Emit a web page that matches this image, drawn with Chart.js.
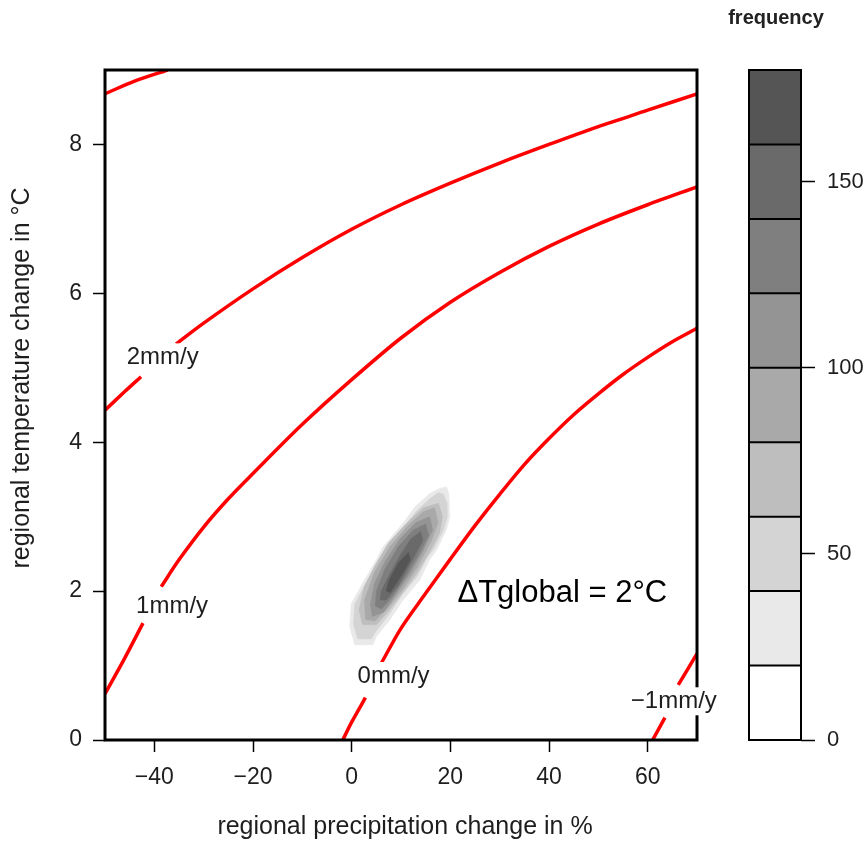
<!DOCTYPE html>
<html>
<head>
<meta charset="utf-8">
<title>Regional precipitation vs temperature change</title>
<script src="https://cdn.jsdelivr.net/npm/chart.js@4.4.1/dist/chart.umd.min.js"></script>
<style>
  html, body { margin: 0; padding: 0; background: #ffffff; }
  #wrap { position: relative; width: 867px; height: 845px; overflow: hidden; }
  #main { position: absolute; left: 0; top: 0; }
  #key { position: absolute; left: 740px; top: 0; }
</style>
</head>
<body>
<div id="wrap">
  <canvas id="main" width="867" height="845"></canvas>
  <canvas id="key" width="127" height="845"></canvas>
</div>
<script>
// Axis ranges and ticks
const xRange = [-50, 70];
const yRange = [0, 9];
const xTicks = [-40, -20, 0, 20, 40, 60];
const yTicks = [0, 2, 4, 6, 8];

// Water-balance contour lines (mm/y), [precip %, temp °C]; each line is split where its label sits
const line3mm  = [[-50, 8.68], [-44, 8.85], [-37.3, 9.0]];
const line2mmA = [[-50, 4.43], [-46, 4.68], [-42.7, 4.88]];
const line2mmB = [[-35.6, 5.32], [-30, 5.6], [-20, 6.06], [-10, 6.48], [0, 6.86], [10, 7.19],
                  [20, 7.48], [30, 7.75], [40, 8.0], [50, 8.24], [60, 8.46], [70, 8.68]];
const line1mmA = [[-50, 0.62], [-46, 1.1], [-42.3, 1.57]];
const line1mmB = [[-38.6, 2.06], [-35, 2.42], [-30, 2.86], [-25, 3.24], [-20, 3.58], [-10, 4.24],
                  [0, 4.84], [10, 5.4], [20, 5.88], [30, 6.28], [40, 6.63], [50, 6.93], [60, 7.19], [70, 7.43]];
const line0mmA = [[-1.8, 0], [0, 0.24], [2.8, 0.57]];
const line0mmB = [[6.0, 1.03], [10, 1.5], [15, 1.97], [20, 2.43], [25, 2.88], [30, 3.3], [35, 3.7],
                  [40, 4.05], [45, 4.37], [50, 4.65], [55, 4.91], [60, 5.14], [65, 5.35], [70, 5.53]];
const lineM1A  = [[61.0, 0], [63.5, 0.3]];
const lineM1B  = [[66.2, 0.74], [70, 1.16]];

// Contour labels
const contourLabels = ['2mm/y', '1mm/y', '0mm/y', '\u22121mm/y'];
const contourLabelX = [-38.3, -36.4, 8.5, 65.3];
const contourLabelY = [5.14, 1.80, 0.86, 0.52];
const annotationText = '\u0394Tglobal = 2\u00B0C';
const annotationX = 42.7;
const annotationY = 1.97;

// Frequency key: level boundaries and shades
const keyLevels = [0, 20, 40, 60, 80, 100, 120, 140, 160, 180];
const keyTicks = [0, 50, 100, 150];
const levelColors = ['#ffffff', '#e9e9e9', '#d4d4d4', '#bebebe', '#a9a9a9',
                     '#949494', '#7f7f7f', '#6a6a6a', '#555555'];

// Frequency regions of the ensemble (outline of each level, lowest level first)
const freq20 = [[19.2, 3.40], [19.7, 3.31], [19.9, 3.00], [19.2, 2.82], [17.2, 2.55], [15.8, 2.42],
                [13.8, 2.15], [10.4, 1.88], [7.7, 1.61], [5.0, 1.39], [4.3, 1.28], [0.6, 1.28],
                [-0.4, 1.52], [-0.1, 1.83], [2.6, 2.15], [5.0, 2.42], [6.3, 2.59], [10.4, 2.91],
                [12.8, 3.13], [15.8, 3.31], [17.8, 3.38]];
const freq40 = [[18.6, 3.30], [19.2, 3.20], [19.3, 2.98], [18.6, 2.82], [16.8, 2.58], [15.3, 2.45],
                [13.3, 2.20], [10.2, 1.95], [7.5, 1.68], [4.9, 1.46], [4.0, 1.36], [1.2, 1.36],
                [0.4, 1.55], [0.6, 1.82], [3.2, 2.15], [5.6, 2.42], [7.0, 2.60], [10.8, 2.88],
                [13.2, 3.08], [16.0, 3.25], [17.6, 3.32]];
const freq60 = [[17.6, 3.18], [18.4, 3.00], [17.8, 2.78], [16.0, 2.55], [13.0, 2.22], [10.0, 1.95],
                [7.3, 1.72], [5.0, 1.55], [2.2, 1.55], [1.5, 1.75], [2.5, 2.05], [4.8, 2.35],
                [7.5, 2.65], [11.0, 2.90], [14.5, 3.12]];
const freq80 = [[16.8, 3.12], [17.5, 2.92], [16.2, 2.68], [13.3, 2.32], [10.3, 2.02], [7.4, 1.78],
                [4.7, 1.60], [2.8, 1.62], [2.6, 1.88], [4.6, 2.25], [7.8, 2.60], [11.4, 2.88], [14.6, 3.07]];
const freq100 = [[15.8, 3.00], [16.4, 2.82], [14.5, 2.55], [12.0, 2.25], [9.2, 1.98], [6.5, 1.72],
                 [4.2, 1.66], [3.8, 1.82], [4.6, 2.10], [6.8, 2.40], [9.8, 2.70], [13.0, 2.92]];
const freq120 = [[15.0, 2.90], [15.6, 2.75], [13.5, 2.48], [11.0, 2.20], [8.2, 1.92], [6.0, 1.76],
                 [4.8, 1.80], [5.0, 2.00], [6.8, 2.30], [9.5, 2.60], [12.5, 2.82]];
const freq140 = [[14.0, 2.80], [14.4, 2.68], [12.0, 2.38], [9.5, 2.08], [7.0, 1.88], [5.8, 1.88],
                 [6.0, 2.00], [7.5, 2.20], [10.0, 2.50], [12.0, 2.70]];
const freq160 = [[11.5, 2.52], [11.9, 2.42], [9.8, 2.18], [7.8, 1.98], [7.0, 2.00], [7.6, 2.15],
                 [9.5, 2.38]];

const freqRegions = [freq20, freq40, freq60, freq80, freq100, freq120, freq140, freq160];

const FONT = "'Liberation Sans', Arial, Helvetica, sans-serif";
const TEXT = '#1e1e1e';
const fmt = v => (v < 0 ? '\u2212' + Math.abs(v) : String(v));
const toPts = arr => arr.map(([x, y]) => ({ x, y }));

// Datasets: red contour lines on top, then density shades darkest first
const datasets = [];
[line3mm, line2mmA, line2mmB, line1mmA, line1mmB, line0mmA, line0mmB, lineM1A, lineM1B].forEach(seg => {
  datasets.push({
    data: toPts(seg), showLine: true, borderColor: '#ff0000', borderWidth: 3.5,
    pointRadius: 0, tension: 0.3, fill: false
  });
});
for (let i = freqRegions.length - 1; i >= 0; i--) {
  const ring = freqRegions[i].concat([freqRegions[i][0]]);
  datasets.push({
    data: toPts(ring), showLine: true, borderColor: levelColors[i + 1], borderWidth: 0.6,
    backgroundColor: levelColors[i + 1], pointRadius: 0, tension: 0, fill: 'shape'
  });
}

// Box around the plotting region plus text labels placed in data coordinates
const plotDecor = {
  id: 'plotDecor',
  afterDraw(chart) {
    const { ctx, chartArea: a, scales: { x, y } } = chart;
    ctx.save();
    ctx.strokeStyle = '#000';
    ctx.lineWidth = 3;
    ctx.strokeRect(a.left, a.top, a.right - a.left, a.bottom - a.top);

    ctx.font = '24px ' + FONT;
    ctx.textAlign = 'center';
    ctx.textBaseline = 'middle';
    contourLabels.forEach((t, i) => {
      const px = x.getPixelForValue(contourLabelX[i]);
      const py = y.getPixelForValue(contourLabelY[i]);
      const w = ctx.measureText(t).width;
      ctx.fillStyle = '#fff';
      ctx.fillRect(px - w / 2 - 2, py - 14, w + 4, 28);
      ctx.fillStyle = TEXT;
      ctx.fillText(t, px, py);
    });

    ctx.font = '31px ' + FONT;
    ctx.fillStyle = '#000';
    ctx.fillText(annotationText, x.getPixelForValue(annotationX), y.getPixelForValue(annotationY));

    // axis titles
    ctx.fillStyle = TEXT;
    ctx.font = '25px ' + FONT;
    ctx.fillText('regional precipitation change in %', (a.left + a.right) / 2 + 4, 827);
    ctx.save();
    ctx.translate(22, 378);
    ctx.rotate(-Math.PI / 2);
    ctx.fillText('regional temperature change in \u00B0C', 0, 0);
    ctx.restore();

    ctx.font = 'bold 20px ' + FONT;
    ctx.fillStyle = '#222';
    ctx.fillText('frequency', 776, 18);
    ctx.restore();
  }
};

const fixedTicks = list => s => { s.ticks = list.map(v => ({ value: v })); };

new Chart(document.getElementById('main'), {
  type: 'scatter',
  data: { datasets },
  options: {
    responsive: false,
    animation: false,
    events: [],
    layout: { padding: { left: 0, top: 70, right: 170, bottom: 0 } },
    plugins: { legend: { display: false }, tooltip: { enabled: false } },
    scales: {
      x: {
        type: 'linear', min: xRange[0], max: xRange[1], position: 'bottom',
        afterFit: s => { s.height = 105; },
        afterBuildTicks: fixedTicks(xTicks),
        border: { display: false },
        grid: { drawOnChartArea: false, drawTicks: true, tickLength: 12, tickColor: '#000', tickWidth: 1.5 },
        ticks: { padding: 12, color: TEXT, font: { family: FONT, size: 23 },
                 callback: v => fmt(v), maxRotation: 0, autoSkip: false }
      },
      y: {
        type: 'linear', min: yRange[0], max: yRange[1], position: 'left',
        afterFit: s => { s.width = 105; },
        afterBuildTicks: fixedTicks(yTicks),
        border: { display: false },
        grid: { drawOnChartArea: false, drawTicks: true, tickLength: 12, tickColor: '#000', tickWidth: 1.5 },
        ticks: { padding: 11, color: TEXT, font: { family: FONT, size: 23 },
                 callback: v => fmt(v), autoSkip: false }
      }
    }
  },
  plugins: [plotDecor]
});

// Frequency key
const keyDecor = {
  id: 'keyDecor',
  afterDatasetsDraw(chart) {
    const { ctx, chartArea: a, scales: { y } } = chart;
    ctx.save();
    ctx.strokeStyle = '#000';
    ctx.lineWidth = 2;
    keyLevels.forEach(v => {
      const py = y.getPixelForValue(v);
      ctx.beginPath();
      ctx.moveTo(a.left, py);
      ctx.lineTo(a.right, py);
      ctx.stroke();
    });
    ctx.strokeRect(a.left, a.top, a.right - a.left, a.bottom - a.top);
    ctx.restore();
  }
};

new Chart(document.getElementById('key'), {
  type: 'bar',
  data: {
    labels: [''],
    datasets: levelColors.map((c, i) => ({
      data: [[keyLevels[i], keyLevels[i + 1]]],
      backgroundColor: c, borderWidth: 0, barPercentage: 1, categoryPercentage: 1
    }))
  },
  options: {
    responsive: false,
    animation: false,
    events: [],
    layout: { padding: { left: 9, top: 70, right: 0, bottom: 105 } },
    plugins: { legend: { display: false }, tooltip: { enabled: false } },
    scales: {
      x: { display: false, stacked: true },
      y: {
        position: 'right', min: keyLevels[0], max: keyLevels[keyLevels.length - 1],
        afterFit: s => { s.width = 66; },
        afterBuildTicks: fixedTicks(keyTicks),
        border: { display: false },
        grid: { drawOnChartArea: false, drawTicks: true, tickLength: 14, tickColor: '#000', tickWidth: 1.5 },
        ticks: { padding: 12, color: TEXT, font: { family: FONT, size: 22 } }
      }
    }
  },
  plugins: [keyDecor]
});
</script>
</body>
</html>
